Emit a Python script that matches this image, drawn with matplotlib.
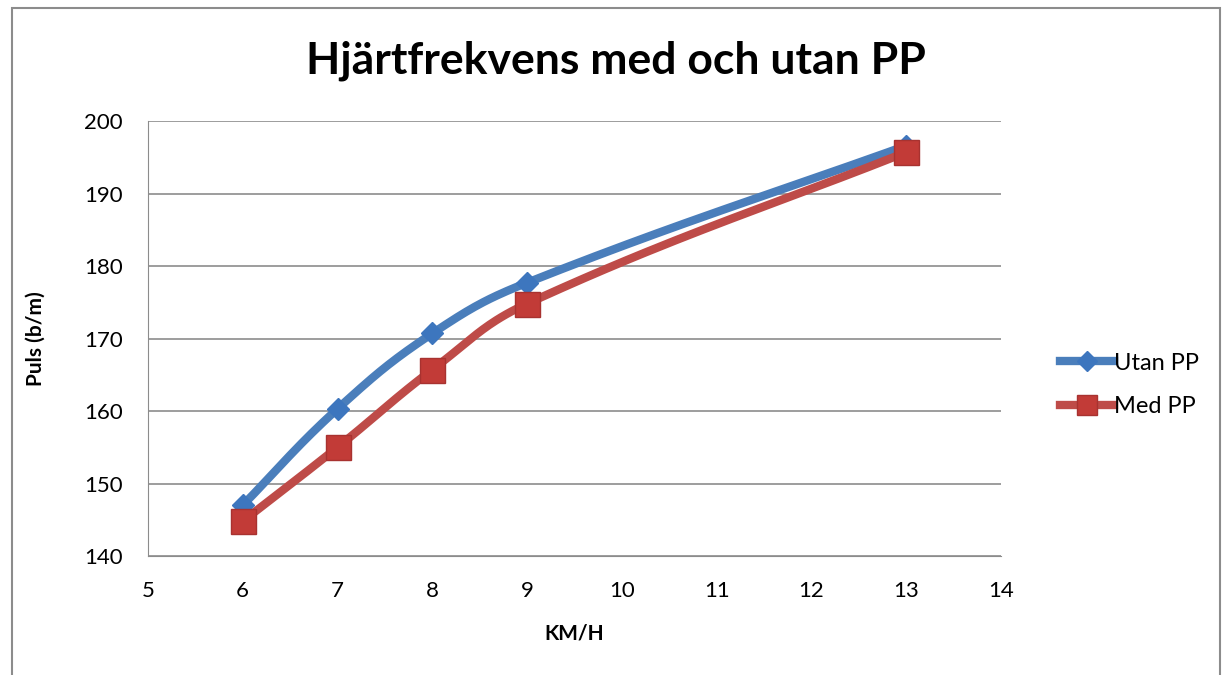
import numpy as np
import matplotlib.pyplot as plt
from matplotlib.patches import Rectangle

# Data
kmh = [6, 7, 8, 9, 13]
utan_pp = [147.0, 160.3, 170.7, 177.7, 196.6]
med_pp = [144.8, 155.0, 165.7, 174.8, 195.7]


def smooth(x, y, n=40, sx=94.8, sy=7.25):
    # Excel-like smoothed line: Bezier segments, control points scaled by segment length
    x = np.asarray(x, float)
    y = np.asarray(y, float)
    pts = np.column_stack([x, y])
    px = pts * [sx, sy]
    L = np.hypot(*np.diff(px, axis=0).T)
    out = []
    for i in range(len(pts) - 1):
        p1, p2 = pts[i], pts[i + 1]
        if i == 0:
            c1 = p1 + (p2 - p1) / 3
        else:
            c1 = p1 + (p2 - pts[i - 1]) * L[i] / (L[i - 1] + L[i]) / 2.4
        if i == len(pts) - 2:
            c2 = p2 - (p2 - p1) / 3
        else:
            c2 = p2 - (pts[i + 2] - p1) * L[i] / (L[i] + L[i + 1]) / 2.4
        t = np.linspace(0, 1, n)[:, None]
        b = (1 - t) ** 3 * p1 + 3 * (1 - t) ** 2 * t * c1 + 3 * (1 - t) * t ** 2 * c2 + t ** 3 * p2
        out.append(b)
    b = np.vstack(out)
    return b[:, 0], b[:, 1]


plt.rcParams['font.family'] = ['Lato', 'DejaVu Sans']

fig = plt.figure(figsize=(12.32, 6.75), dpi=100)
ax = fig.add_axes([0.1201, 0.1763, 0.6924, 0.6444])

# outer chart border
fig.patches.append(Rectangle((0.010, -0.01), 0.980, 0.998, transform=fig.transFigure,
                             fill=False, edgecolor='#8c8c8c', linewidth=1.5))

blue = '#4A7EBB'
red = '#BE4B48'

sx, sy = smooth(kmh, utan_pp)
ax.plot(sx, sy, color=blue, linewidth=6, solid_capstyle='round', zorder=3)
ax.plot(kmh, utan_pp, linestyle='none', marker='D', markersize=11,
        color='#3D76BE', zorder=4)

sx, sy = smooth(kmh, med_pp)
ax.plot(sx, sy, color=red, linewidth=6, solid_capstyle='round', zorder=3)
ax.plot(kmh, med_pp, linestyle='none', marker='s', markersize=18,
        markerfacecolor='#C23B37', markeredgecolor='#A83230', markeredgewidth=1, zorder=5)

# legend proxies
ax.plot([], [], color=blue, linewidth=6, marker='D', markersize=10,
        markerfacecolor='#3D76BE', markeredgecolor='#3D76BE', label='Utan PP')
ax.plot([], [], color=red, linewidth=6, marker='s', markersize=15,
        markerfacecolor='#C23B37', markeredgecolor='#A83230', label='Med PP')

ax.set_xlim(5, 14)
ax.set_ylim(140, 200)
ax.set_xticks(range(5, 15))
ax.set_yticks(range(140, 201, 10))
ax.grid(axis='y', color='#8c8c8c', linewidth=1.2)
ax.set_axisbelow(True)
for side in ['top', 'right']:
    ax.spines[side].set_visible(False)
ax.spines['left'].set_color('#8c8c8c')
ax.spines['bottom'].set_color('#8c8c8c')
ax.tick_params(axis='both', length=0, labelsize=16)
ax.tick_params(axis='x', pad=18)
ax.tick_params(axis='y', pad=18)

ax.set_xlabel('KM/H', fontsize=15, fontweight='bold', labelpad=16)
ax.set_ylabel('Puls (b/m)', fontsize=15, fontweight='bold', labelpad=28)
fig.text(0.5, 0.91, 'Hjärtfrekvens med och utan PP', ha='center', va='center',
         fontsize=32, fontweight='bold')

handles, labels = ax.get_legend_handles_labels()
fig.legend(handles[-2:], labels[-2:], loc='center left', bbox_to_anchor=(0.843, 0.43),
           frameon=False, fontsize=17, handlelength=2.3, handletextpad=0.0,
           labelspacing=0.95)

fig.savefig('out.png', dpi=100)
